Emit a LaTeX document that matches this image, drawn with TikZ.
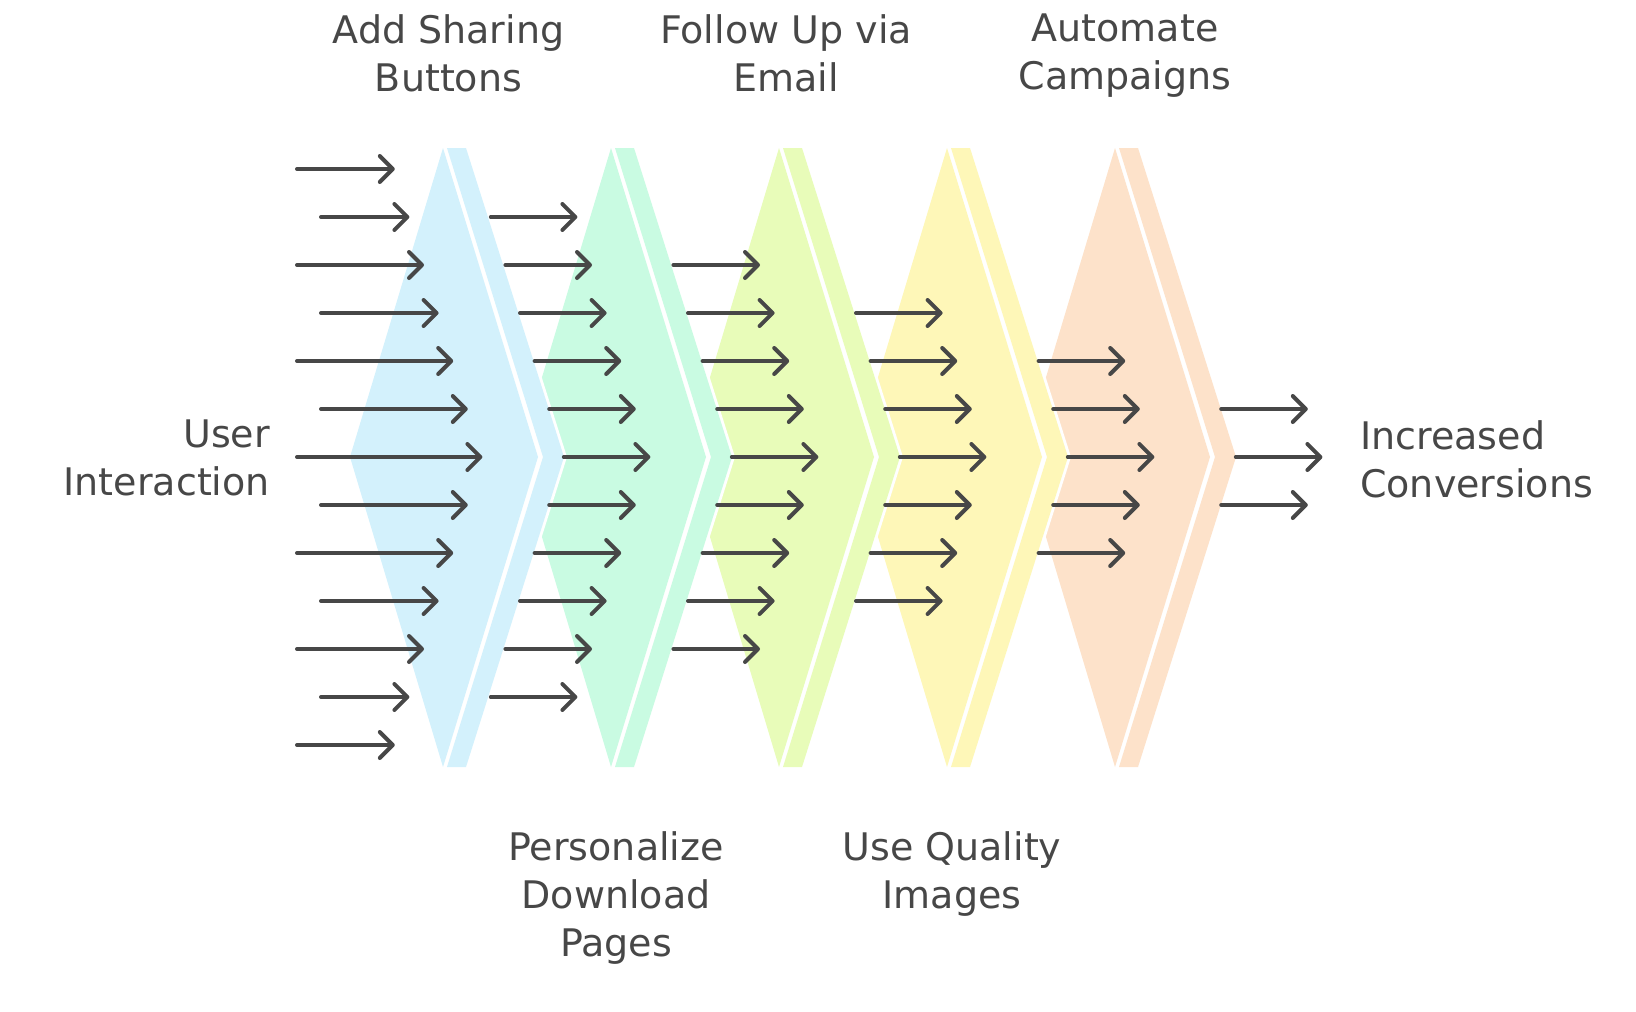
\documentclass[tikz,border=0pt]{standalone}
\usepackage{fontspec}
\setmainfont{DejaVu Sans}
\usepackage{xcolor}
\usepackage{tikz}
\usetikzlibrary{arrows.meta}

\definecolor{inkgray}{HTML}{474747}
\definecolor{stepblue}{HTML}{D3F1FC}
\definecolor{stepgreen}{HTML}{C9FBE2}
\definecolor{steplime}{HTML}{E8FCB9}
\definecolor{stepyellow}{HTML}{FEF7B8}
\definecolor{steporange}{HTML}{FDE2CA}

\begin{document}
\begin{tikzpicture}[x=1pt,y=-1pt,
    flow/.style={line width=4pt, inkgray, line cap=round,
      -{Straight Barb[length=13pt,width=26pt,round]}},
    steptext/.style={font=\fontsize{38}{48}\selectfont, text=inkgray,
      inner sep=0pt, align=center}]
        \useasboundingbox (0,0) rectangle (1636,1012);
        % Chevrons, last one first so each strip lies over the next step
        \foreach \i/\col in {4/steporange,3/stepyellow,2/steplime,1/stepgreen,0/stepblue} {
            \begin{scope}[xshift={168*\i}]
                \fill[white] (350,457) -- (443,148) -- (469,148) -- (567,457) -- (469,767) -- (443,767) -- cycle;
                \fill[\col] (350,457) -- (443,148) -- (538,457) -- (443,767) -- cycle;
                \fill[\col] (447,148) -- (466,148) -- (564,457) -- (466,767) -- (447,767) -- (543,457) -- cycle;
            \end{scope}
        }
        % Incoming arrows
        \foreach \k in {-6,...,6} {
            \pgfmathsetmacro\xs{mod(abs(\k),2)==1 ? 321 : 297}
            \pgfmathsetmacro\xt{482.4-14.6*abs(\k)}
            \draw[flow] (\xs,{457+48*\k}) -- (\xt,{457+48*\k});
        }
        % Arrows after each step
        \foreach \g in {1,...,5} {
            \pgfmathtruncatemacro\m{6-\g}
            \foreach \k in {-\m,...,\m} {
                \pgfmathsetmacro\xt{482.4+168*\g-14.6*abs(\k)}
                \draw[flow] ({\xt-86.6},{457+48*\k}) -- (\xt,{457+48*\k});
            }
        }
        % Labels
        \node[steptext, anchor=north] (share) at (448.5,14) {Add Sharing\\Buttons};
        \node[steptext, anchor=north] (email) at (786,14) {Follow Up via\\Email};
        \node[steptext, anchor=north] (automate) at (1125,14) {Automate\\Campaigns};
        \node[steptext, anchor=north] (personalize) at (616,831) {Personalize\\Download\\Pages};
        \node[steptext, anchor=north] (quality) at (952,831) {Use Quality\\Images};
        \node[steptext, anchor=north east, align=right] (user) at (270,420) {User\\Interaction};
        \node[steptext, anchor=north west, align=left] (conversions) at (1360,420) {Increased\\Conversions};
    \end{tikzpicture}
\end{document}
